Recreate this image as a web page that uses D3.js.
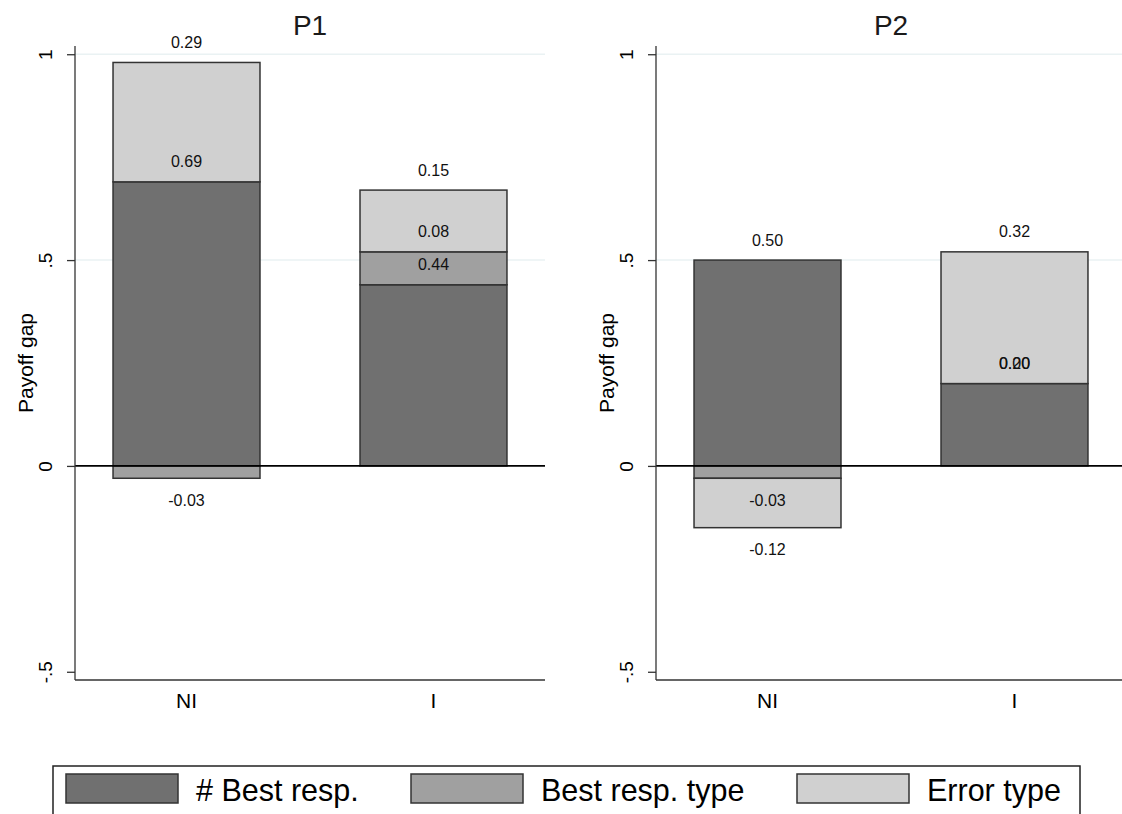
<!DOCTYPE html>
<html>
<head>
<meta charset="utf-8">
<script src="https://cdn.jsdelivr.net/npm/d3@7"></script>
<style>
  html, body { margin: 0; padding: 0; background: #fff; }
  svg { display: block; font-family: Arial, "Liberation Sans", sans-serif; }
</style>
</head>
<body>
<svg id="chart" width="1122" height="814"></svg>
<script>
// ---- data ----
const panels = ["P1", "P2"];
const categories = ["NI", "I"];
const seriesNames = ["# Best resp.", "Best resp. type", "Error type"];
const bestResp     = [[0.69, 0.44], [0.50, 0.20]];
const bestRespType = [[-0.03, 0.08], [-0.03, 0.00]];
const errorType    = [[0.29, 0.15], [-0.12, 0.32]];
const yTicks = [-0.5, 0, 0.5, 1];
const yTickLabels = ["-.5", "0", ".5", "1"];
const gridTicks = [0.5, 1];

// ---- styles ----
const colors = ["#707070", "#a0a0a0", "#d0d0d0"];
const outline = "#333333";
const svg = d3.select("#chart");

const fmt = d3.formatLocale({decimal: ".", thousands: ",", grouping: [3], currency: ["", ""], minus: "-"}).format(".2f");

const panelLeft = [75, 656];
const plotWidth = 470;
const plotTop = 46, plotBottom = 680;

const y = d3.scaleLinear().domain([-0.52, 1.02]).range([plotBottom, plotTop]);

const allSeries = [bestResp, bestRespType, errorType];

panels.forEach((pName, pi) => {
  const left = panelLeft[pi];
  const right = left + plotWidth;
  const g = svg.append("g");

  const x = d3.scaleBand().domain(categories).range([left, right])
    .paddingInner(0.405).paddingOuter(0.154);

  // gridlines
  g.selectAll(".grid").data(gridTicks).join("line")
    .attr("x1", left).attr("x2", right)
    .attr("y1", d => y(d)).attr("y2", d => y(d))
    .attr("stroke", "#eaf2f3").attr("stroke-width", 1.5);

  // stacked bars (positive and negative stacks separately)
  const segs = [];
  categories.forEach((c, ci) => {
    let pos = 0, neg = 0;
    allSeries.forEach((s, si) => {
      const v = s[pi][ci];
      let y0, y1;
      if (v >= 0) { y0 = pos; y1 = pos + v; pos = y1; }
      else { y0 = neg; y1 = neg + v; neg = y1; }
      segs.push({c, si, v, y0, y1});
    });
  });

  g.selectAll(".bar").data(segs).join("rect")
    .attr("x", d => x(d.c))
    .attr("width", x.bandwidth())
    .attr("y", d => Math.min(y(d.y0), y(d.y1)))
    .attr("height", d => Math.abs(y(d.y0) - y(d.y1)))
    .attr("fill", d => colors[d.si])
    .attr("stroke", outline)
    .attr("stroke-width", 1.5);

  // zero line
  g.append("line")
    .attr("x1", left).attr("x2", right)
    .attr("y1", y(0)).attr("y2", y(0))
    .attr("stroke", "#000").attr("stroke-width", 1.6);

  // value labels
  g.selectAll(".lbl").data(segs).join("text")
    .attr("x", d => x(d.c) + x.bandwidth() / 2)
    .attr("y", d => y(d.y1) + (d.v >= 0 ? -20 : 22))
    .attr("text-anchor", "middle")
    .attr("dominant-baseline", "central")
    .attr("font-size", 16)
    .attr("fill", "#111")
    .text(d => fmt(d.v));

  // y axis
  const yAxis = d3.axisLeft(y).tickValues(yTicks).tickSize(8)
    .tickFormat((d, i) => yTickLabels[i]);
  const ya = g.append("g").attr("transform", `translate(${left},0)`).call(yAxis);
  ya.select(".domain").attr("d", `M0,${plotTop}V${plotBottom}`).attr("stroke", "#333").attr("stroke-width", 1.3);
  ya.selectAll(".tick line").attr("stroke", "#333").attr("stroke-width", 1.3);
  ya.selectAll(".tick text")
    .attr("font-size", 19).attr("fill", "#000")
    .attr("font-family", "Arial, 'Liberation Sans', sans-serif")
    .attr("x", null).attr("dy", null)
    .attr("text-anchor", "middle")
    .attr("dominant-baseline", "central")
    .attr("transform", "translate(-30,0) rotate(-90)");

  // x axis
  const xAxis = d3.axisBottom(x).tickSize(0).tickPadding(13);
  const xa = g.append("g").attr("transform", `translate(0,${plotBottom})`).call(xAxis);
  xa.select(".domain").attr("d", `M${left},0H${right}`).attr("stroke", "#333").attr("stroke-width", 1.3);
  xa.selectAll(".tick text").attr("font-size", 21).attr("fill", "#000")
    .attr("font-family", "Arial, 'Liberation Sans', sans-serif")
    .attr("dy", "0.72em");

  // y axis title
  g.append("text")
    .attr("transform", `translate(${left - 50},${(plotTop + plotBottom) / 2}) rotate(-90)`)
    .attr("text-anchor", "middle")
    .attr("dominant-baseline", "central")
    .attr("font-size", 21)
    .text("Payoff gap");

  // panel title
  g.append("text")
    .attr("x", (left + right) / 2).attr("y", 25)
    .attr("text-anchor", "middle")
    .attr("dominant-baseline", "central")
    .attr("font-size", 28)
    .attr("fill", "#1a1a1a")
    .text(pName);
});

// legend
const lg = svg.append("g");
lg.append("rect").attr("x", 53).attr("y", 766).attr("width", 1027).attr("height", 80)
  .attr("fill", "#fff").attr("stroke", "#222").attr("stroke-width", 1.5);
const keyX = [66, 411, 797];
seriesNames.forEach((n, i) => {
  lg.append("rect").attr("x", keyX[i]).attr("y", 774).attr("width", 112).attr("height", 29)
    .attr("fill", colors[i]).attr("stroke", outline).attr("stroke-width", 1.5);
  lg.append("text").attr("x", keyX[i] + 130).attr("y", 790)
    .attr("dominant-baseline", "central")
    .attr("font-size", 30.5).attr("fill", "#000")
    .text(n);
});
</script>
</body>
</html>
